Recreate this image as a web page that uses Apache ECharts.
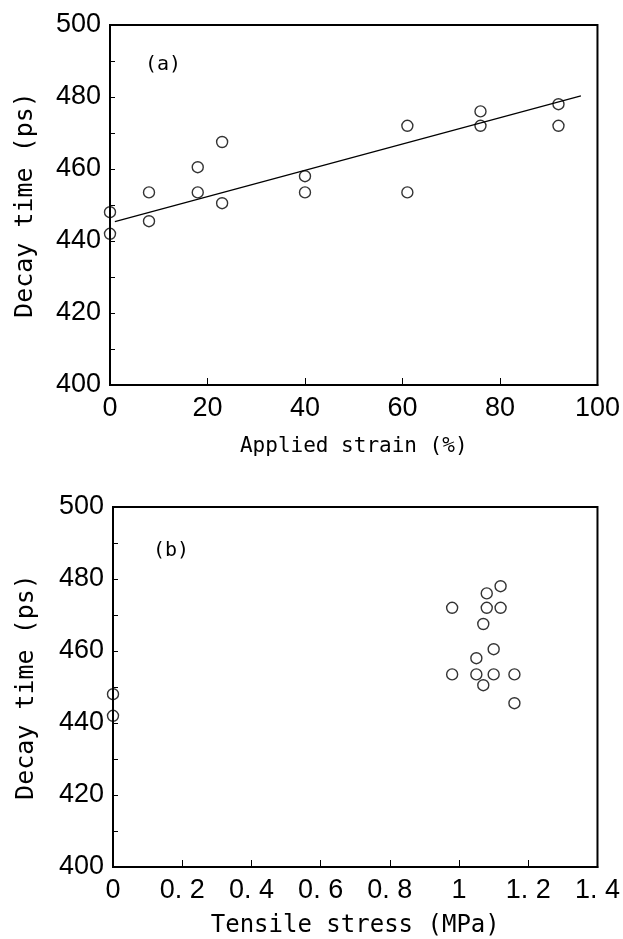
<!DOCTYPE html>
<html lang="en">
<head>
    <meta charset="UTF-8">
    <title>Decay time vs strain / stress</title>
    <script src="https://cdn.jsdelivr.net/npm/echarts@6/dist/echarts.min.js"></script>
</head>
<body style="margin: 0; background: #fff">
<div id="main" style="width: 623px; height: 939px"></div>

<script>
    // decay time of each sample, with its applied strain (%) and tensile stress (MPa)
    const strain = [0, 0, 8, 8, 18, 18, 23, 23, 40, 40, 61, 61, 76, 76, 92, 92];
    const stress = [0, 0, 1.16, 1.16, 1.10, 1.10, 1.07, 1.07, 1.05, 1.05, 0.98, 0.98, 1.08, 1.08, 1.12, 1.12];
    const decayTime = [448, 442, 453.5, 445.5, 460.5, 453.5, 467.5, 450.5, 458, 453.5, 472, 453.5, 476, 472, 478, 472];

    // linear fit drawn in panel (a)
    const fitX = [1, 96.6];
    const fitY = [445.4, 480.3];

    const panelTags = ['(a)', '(b)'];

    const tickFont = "'Liberation Sans', Arial, sans-serif";
    const textFont = "'DejaVu Sans Mono', 'Liberation Mono', monospace";

    const chartDom = document.getElementById('main');
    const myChart = echarts.init(chartDom);

    const circle = {
        color: 'rgba(0,0,0,0)',
        borderColor: '#000',
        borderWidth: 1.4
    };

    function yAxisFor(gridIndex, gap) {
        return {
            gridIndex: gridIndex,
            type: 'value',
            min: 400,
            max: 500,
            interval: 20,
            name: 'Decay time (ps)',
            nameLocation: 'middle',
            nameRotate: 90,
            nameGap: gap,
            nameTextStyle: {fontFamily: textFont, fontSize: 25, color: '#000'},
            axisLine: {show: true, lineStyle: {color: '#000', width: 2}},
            axisTick: {inside: true, length: 5, lineStyle: {color: '#000', width: 1}},
            minorTick: {show: true, splitNumber: 2, length: 5, lineStyle: {color: '#000', width: 1}},
            axisLabel: {fontFamily: tickFont, fontSize: 27, color: '#000', margin: 9},
            splitLine: {show: false}
        };
    }

    const option = {
        animation: false,
        backgroundColor: '#fff',
        title: [
            {text: panelTags[0], left: 140, top: 50, textStyle: {fontFamily: textFont, fontSize: 20, fontWeight: 'normal', color: '#000'}},
            {text: panelTags[1], left: 148, top: 536, textStyle: {fontFamily: textFont, fontSize: 20, fontWeight: 'normal', color: '#000'}}
        ],
        grid: [
            {left: 110, top: 25, width: 490, height: 360, show: true, borderColor: '#000', borderWidth: 2, backgroundColor: 'transparent'},
            {left: 113, top: 507, width: 486, height: 360, show: true, borderColor: '#000', borderWidth: 2, backgroundColor: 'transparent'}
        ],
        xAxis: [
            {
                gridIndex: 0,
                type: 'value',
                min: 0,
                max: 100,
                interval: 20,
                name: 'Applied strain (%)',
                nameLocation: 'middle',
                nameGap: 51,
                nameTextStyle: {fontFamily: textFont, fontSize: 21, color: '#000'},
                axisLine: {show: true, lineStyle: {color: '#000', width: 2}},
                axisTick: {inside: true, length: 7, lineStyle: {color: '#000', width: 1}},
                axisLabel: {fontFamily: tickFont, fontSize: 27, color: '#000', margin: 10},
                splitLine: {show: false}
            },
            {
                gridIndex: 1,
                type: 'value',
                min: 0,
                max: 1.4,
                interval: 0.2,
                name: 'Tensile stress (MPa)',
                nameLocation: 'middle',
                nameGap: 47,
                nameTextStyle: {fontFamily: textFont, fontSize: 24, color: '#000'},
                axisLine: {show: true, lineStyle: {color: '#000', width: 2}},
                axisTick: {inside: true, length: 7, lineStyle: {color: '#000', width: 1}},
                axisLabel: {
                    fontFamily: tickFont, fontSize: 27, color: '#000', margin: 10,
                    formatter: v => String(+v.toFixed(1)).replace('.', '. ')
                },
                splitLine: {show: false}
            }
        ],
        yAxis: [yAxisFor(0, 72), yAxisFor(1, 74)],
        series: [
            {
                type: 'scatter',
                xAxisIndex: 0,
                yAxisIndex: 0,
                symbol: 'circle',
                symbolSize: 11,
                itemStyle: circle,
                data: strain.map((x, i) => [x, decayTime[i]]),
                z: 3
            },
            {
                type: 'line',
                xAxisIndex: 0,
                yAxisIndex: 0,
                showSymbol: false,
                lineStyle: {color: '#000', width: 1.2},
                data: fitX.map((x, i) => [x, fitY[i]]),
                z: 2
            },
            {
                type: 'scatter',
                xAxisIndex: 1,
                yAxisIndex: 1,
                symbol: 'circle',
                symbolSize: 11,
                itemStyle: circle,
                data: stress.map((x, i) => [x, decayTime[i]]),
                z: 3
            }
        ]
    };

    option && myChart.setOption(option);
</script>
</body>
</html>
